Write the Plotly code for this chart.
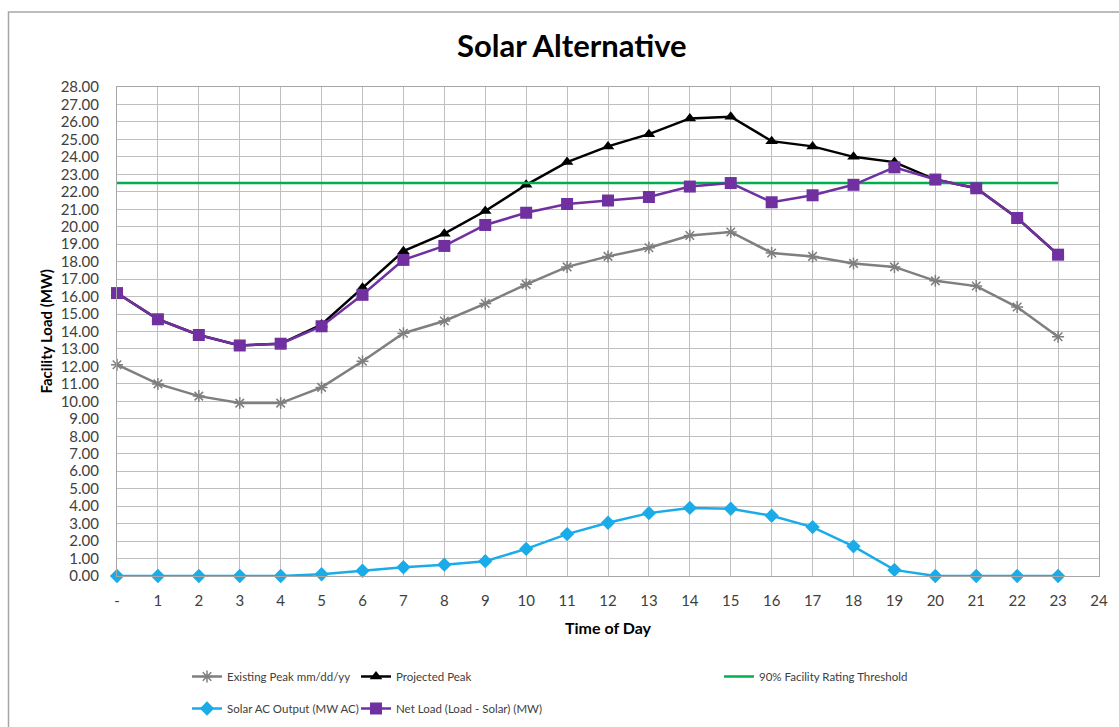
import plotly.graph_objects as go

# Hour of day (0-23) and tick labels for the 0-24 axis
hours = list(range(24))
x_tick_vals = list(range(25))
x_tick_text = ["-"] + [str(h) for h in range(1, 25)]
y_tick_vals = list(range(29))

# Load profiles (MW)
existing_peak = [12.1, 11.0, 10.3, 9.9, 9.9, 10.8, 12.3, 13.9, 14.6, 15.6, 16.7, 17.7,
                 18.3, 18.8, 19.5, 19.7, 18.5, 18.3, 17.9, 17.7, 16.9, 16.6, 15.4, 13.7]
projected_peak = [16.2, 14.7, 13.8, 13.2, 13.3, 14.4, 16.5, 18.6, 19.6, 20.9, 22.4, 23.7,
                  24.6, 25.3, 26.2, 26.3, 24.9, 24.6, 24.0, 23.7, 22.7, 22.2, 20.5, 18.4]
solar_output = [0.0, 0.0, 0.0, 0.0, 0.0, 0.1, 0.3, 0.5, 0.65, 0.85, 1.55, 2.4,
                3.05, 3.6, 3.9, 3.85, 3.45, 2.8, 1.7, 0.35, 0.0, 0.0, 0.0, 0.0]
net_load = [16.2, 14.7, 13.8, 13.2, 13.3, 14.3, 16.1, 18.1, 18.9, 20.1, 20.8, 21.3,
            21.5, 21.7, 22.3, 22.5, 21.4, 21.8, 22.4, 23.4, 22.7, 22.2, 20.5, 18.4]
threshold_value = 22.5
threshold = [threshold_value] * len(hours)

FONT = "Lato"
TEXT = "#404040"

# Plot area in pixels (fixed margins)
W, H = 1119, 727
ML, MR, MT, MB = 117, 20, 87, 151
PW, PH = W - ML - MR, H - MT - MB

fig = go.Figure()

fig.add_trace(go.Scatter(
    x=hours, y=existing_peak, name="Existing Peak mm/dd/yy", mode="lines+markers",
    line=dict(color="#7F7F7F", width=2.5),
    marker=dict(symbol="asterisk-open", size=10, color="#7F7F7F",
                line=dict(color="#7F7F7F", width=1.5)),
    legend="legend", legendgroup="a", cliponaxis=False))
fig.add_trace(go.Scatter(
    x=hours, y=projected_peak, name="Projected Peak", mode="lines+markers",
    line=dict(color="#000000", width=2.5),
    marker=dict(symbol="triangle-up", size=11, color="#000000"),
    legend="legend2", legendgroup="b", cliponaxis=False))
fig.add_trace(go.Scatter(
    x=hours, y=threshold, name="90% Facility Rating Threshold", mode="lines",
    line=dict(color="#00B050", width=2.5),
    legend="legend3", legendgroup="c", cliponaxis=False))
fig.add_trace(go.Scatter(
    x=hours, y=solar_output, name="Solar AC Output (MW AC)", mode="lines+markers",
    line=dict(color="#1AACE8", width=2.5),
    marker=dict(symbol="diamond", size=11, color="#1AACE8"),
    legend="legend", legendgroup="d", cliponaxis=False))
fig.add_trace(go.Scatter(
    x=hours, y=net_load, name="Net Load (Load - Solar) (MW)", mode="lines+markers",
    line=dict(color="#7030A0", width=2.5),
    marker=dict(symbol="square", size=12, color="#7030A0"),
    legend="legend2", legendgroup="e", cliponaxis=False))

legend_common = dict(orientation="v", yanchor="top", xanchor="left",
                     xref="container", yref="container",
                     y=1 - 662 / H, tracegroupgap=13, itemwidth=30,
                     font=dict(family=FONT, size=11.5, color=TEXT),
                     bgcolor="rgba(0,0,0,0)")

fig.update_layout(
    width=W, height=H,
    margin=dict(l=ML, r=MR, t=MT, b=MB, autoexpand=False),
    paper_bgcolor="white", plot_bgcolor="white",
    showlegend=True,
    hovermode=False,
    title=dict(text="<b>Solar Alternative</b>", x=0.511, xanchor="center",
               y=0.937, yanchor="middle",
               font=dict(family=FONT, size=31, color="#000000")),
    legend=dict(x=187 / W, **legend_common),
    legend2=dict(x=356 / W, **legend_common),
    legend3=dict(x=719 / W, **legend_common),
    xaxis=dict(range=[0, 24], tickmode="array", tickvals=x_tick_vals, ticktext=x_tick_text,
               showgrid=True, gridcolor="#BFBFBF", gridwidth=1,
               showline=True, linecolor="#A6A6A6", linewidth=1, mirror=True,
               zeroline=False, ticks="", ticklabelstandoff=11,
               tickfont=dict(family=FONT, size=15, color=TEXT)),
    yaxis=dict(range=[0, 28], tickmode="array", tickvals=y_tick_vals,
               tickformat=".2f",
               showgrid=True, gridcolor="#BFBFBF", gridwidth=1,
               showline=True, linecolor="#A6A6A6", linewidth=1, mirror=True,
               zeroline=False, ticks="", ticklabelstandoff=14,
               tickfont=dict(family=FONT, size=15, color=TEXT)),
)

# Axis titles
fig.add_annotation(text="<b>Time of Day</b>", xref="paper", yref="paper",
                   x=0.5, y=(MT + PH - 627) / PH, xanchor="center", yanchor="middle",
                   showarrow=False, font=dict(family=FONT, size=16, color="#000000"))
fig.add_annotation(text="<b>Facility Load (MW)</b>", xref="paper", yref="paper",
                   x=(45 - ML) / PW, y=0.5, xanchor="center", yanchor="middle",
                   textangle=-90, showarrow=False,
                   font=dict(family=FONT, size=15, color="#000000"))

# Outer chart-area frame
fig.add_shape(type="rect", xref="paper", yref="paper",
              x0=(8.5 - ML) / PW, x1=(1130 - ML) / PW,
              y0=(MT + PH - 740) / PH, y1=(MT + PH - 12) / PH,
              line=dict(color="#A6A6A6", width=1.5), fillcolor="rgba(0,0,0,0)",
              layer="below")

fig.write_html("out.html")
